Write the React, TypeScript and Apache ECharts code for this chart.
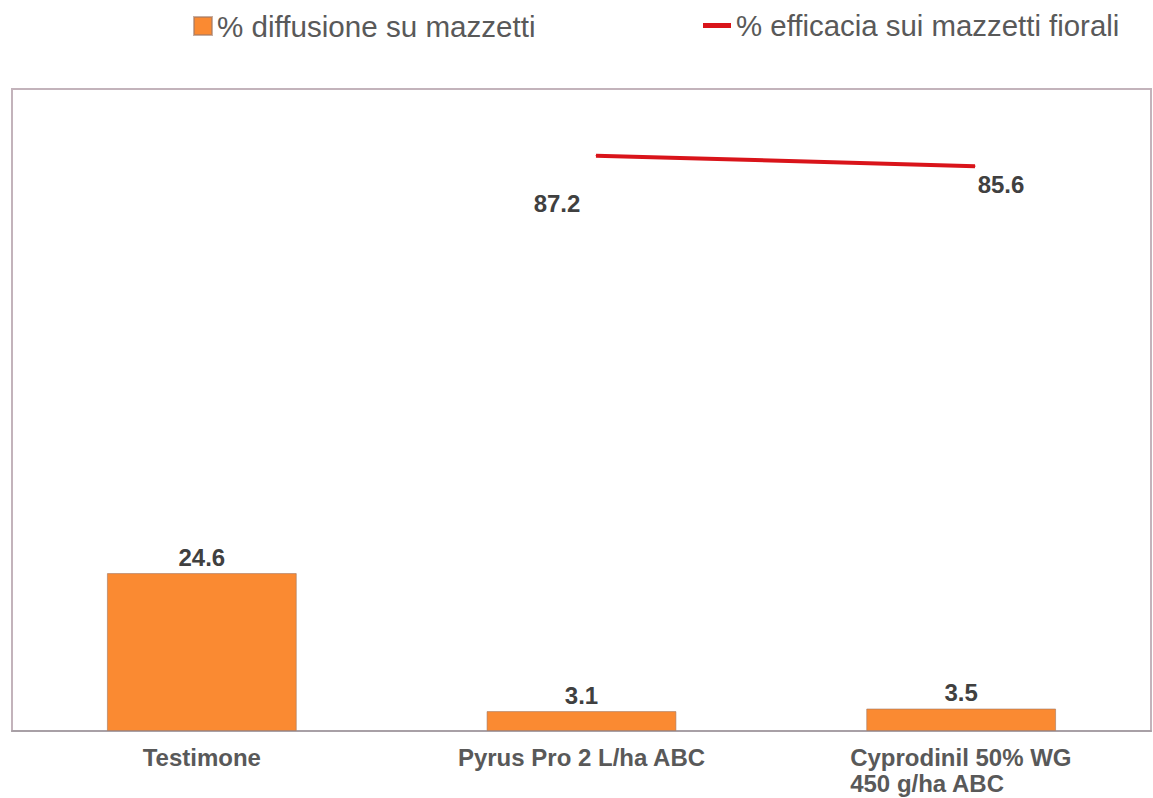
import React, { useEffect, useRef } from "react";
import * as echarts from "echarts";

const categories = ["Testimone", "Pyrus Pro 2 L/ha ABC", "Cyprodinil 50% WG\n450 g/ha ABC"];
const diffusione = [24.6, 3.1, 3.5];
const efficacia: (number | null)[] = [null, 87.2, 85.6];
const barName = "% diffusione su mazzetti";
const lineName = "% efficacia sui mazzetti fiorali";

const FONT = "'Liberation Sans', Arial, sans-serif";

export default function App() {
  const ref = useRef<HTMLDivElement>(null);
  useEffect(() => {
    if (!ref.current) return;
    const chart = echarts.init(ref.current, null, { renderer: "svg" });
    const labelOffsets: Record<number, number[]> = { 1: [-39, 48], 2: [26, 18] };
    chart.setOption({
      animation: false,
      textStyle: { fontFamily: FONT },
      legend: [
        {
          data: [{ name: barName, icon: "rect" }],
          left: 188,
          top: 6,
          itemWidth: 18,
          itemHeight: 18,
          textStyle: { fontSize: 29.6, color: "#595959", fontFamily: FONT },
        },
        {
          data: [{ name: lineName, icon: "rect" }],
          left: 698,
          top: 6,
          itemWidth: 28,
          itemHeight: 5,
          textStyle: { fontSize: 29.4, color: "#595959", fontFamily: FONT },
        },
      ],
      grid: [
        { left: 12, top: 89, width: 1139, height: 642, show: true, borderColor: "#c3b3bb", borderWidth: 2, backgroundColor: "#ffffff" },
        { left: 217, top: 89, width: 758, height: 642 },
      ],
      xAxis: [
        {
          type: "category",
          gridIndex: 0,
          data: categories,
          axisLine: { show: true, lineStyle: { color: "#a8a0a6", width: 2 } },
          axisTick: { show: false },
          axisLabel: {
            interval: 0,
            margin: 13,
            fontSize: 24,
            fontWeight: "bold",
            color: "#595959",
            fontFamily: FONT,
            lineHeight: 26,
            formatter: (v: string) =>
              v.indexOf("\n") >= 0
                ? v.split("\n").map((s) => `{l|${s}}`).join("\n")
                : v,
            rich: {
              l: { width: 222, align: "left", fontSize: 24, fontWeight: "bold", color: "#595959", fontFamily: FONT, lineHeight: 26 },
            },
          },
        },
        {
          type: "category",
          gridIndex: 1,
          data: categories,
          boundaryGap: false,
          show: false,
        },
      ],
      yAxis: [
        { type: "value", gridIndex: 0, min: 0, max: 100, show: false, splitLine: { show: false } },
        { type: "value", gridIndex: 1, min: 0, max: 97.3, show: false, splitLine: { show: false } },
      ],
      series: [
        {
          name: barName,
          type: "bar",
          xAxisIndex: 0,
          yAxisIndex: 0,
          data: diffusione,
          barWidth: "50%",
          itemStyle: { color: "#FA8A32", borderColor: "rgba(160,120,100,0.6)", borderWidth: 1 },
          label: {
            show: true,
            position: "top",
            distance: 4,
            fontSize: 24,
            fontWeight: "bold",
            color: "#404040",
            fontFamily: FONT,
          },
        },
        {
          name: lineName,
          type: "line",
          xAxisIndex: 1,
          yAxisIndex: 1,
          data: efficacia.map((v, i) =>
            v === null
              ? null
              : { value: v, label: { offset: labelOffsets[i] || [0, 0] } }
          ),
          symbol: "circle",
          symbolSize: 1,
          lineStyle: { color: "#D9141A", width: 4 },
          itemStyle: { color: "#D9141A" },
          label: {
            show: true,
            position: "inside",
            fontSize: 24,
            fontWeight: "bold",
            color: "#404040",
            fontFamily: FONT,
          },
        },
      ],
    });
    return () => chart.dispose();
  }, []);
  return <div ref={ref} style={{ width: 1153, height: 798, position: "absolute", left: 0, top: 0 }} />;
}
